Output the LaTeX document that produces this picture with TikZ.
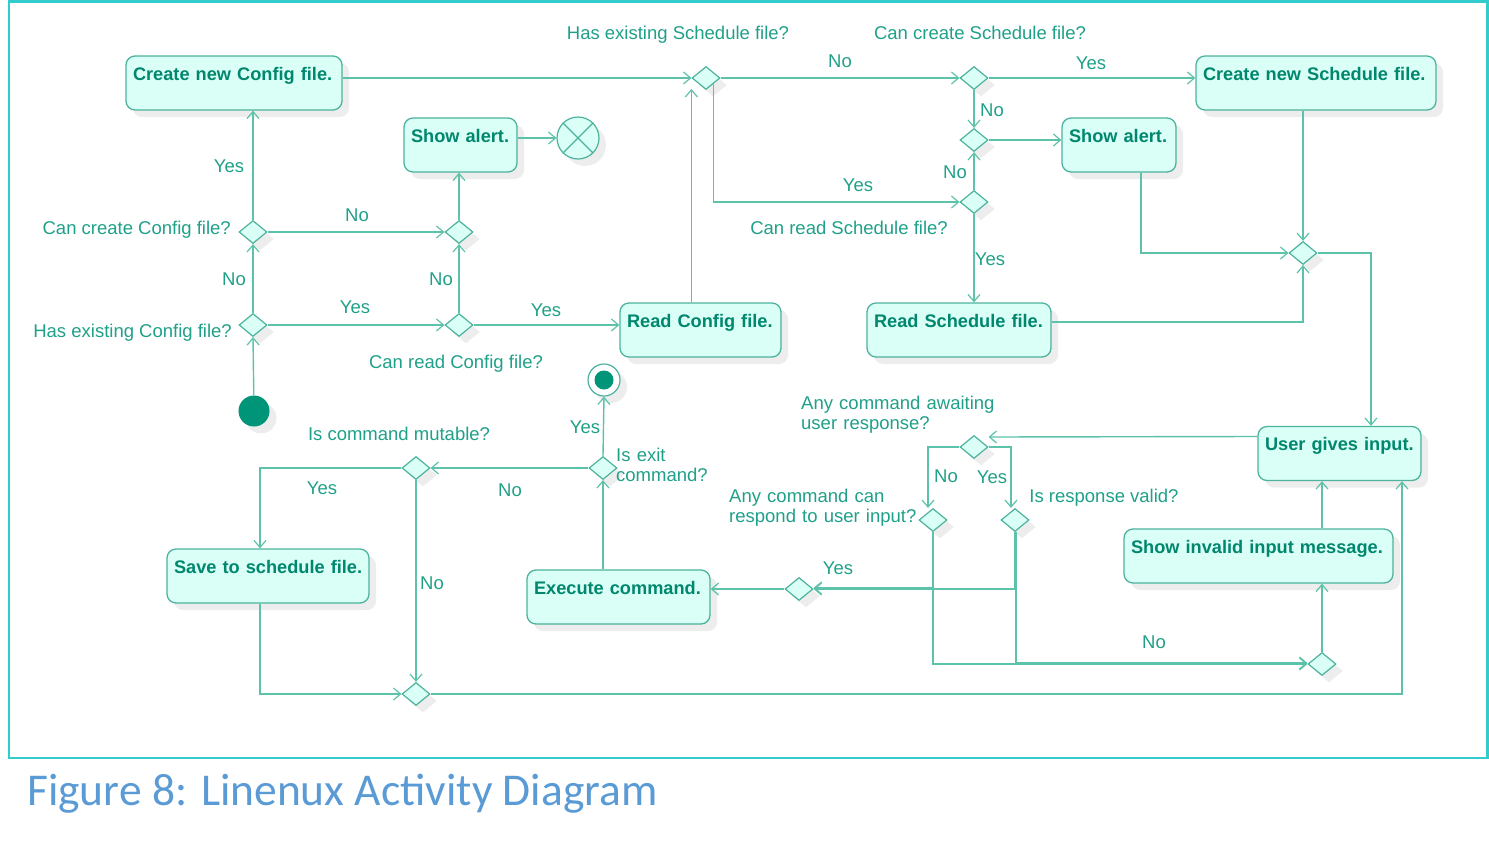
\documentclass[tikz,border=0pt]{standalone}
\usepackage{fontspec}
\setmainfont{Liberation Sans}
\newfontfamily\capfont{Carlito}
\usetikzlibrary{arrows.meta,shapes.geometric,shadows,calc}
\definecolor{linecol}{HTML}{5CC2AA}
\definecolor{boxcol}{HTML}{4DB39E}
\definecolor{labelcol}{HTML}{1FA088}
\definecolor{boldcol}{HTML}{00876E}
\definecolor{fillcol}{HTML}{D9FFF6}
\definecolor{initcol}{HTML}{009479}
\definecolor{framecol}{HTML}{33CCCC}
\definecolor{capcol}{HTML}{5B9BD5}
\begin{document}
\begin{tikzpicture}[x=1pt,y=-1pt,
  shadowed/.style={drop shadow={shadow xshift=7pt,shadow yshift=-7pt,fill=black!7,opacity=1}},
  action/.style={draw=boxcol,fill=fillcol,line width=1.3pt,rounded corners=9pt,align=left,
    inner xsep=7pt,inner ysep=6pt,text height=18pt,text depth=24pt,
    font=\bfseries\fontsize{18.2}{20}\selectfont,text=boldcol,shadowed},
  dec/.style={diamond,draw=boxcol,fill=fillcol,line width=1.2pt,minimum width=28pt,
    minimum height=23pt,inner sep=0pt,shadowed},
  flow/.style={draw=linecol,line width=1.4pt,
    -{Straight Barb[length=7pt,width=12pt,line width=1.2pt]}},
  lab/.style={text=labelcol,font=\fontsize{18.5}{20}\selectfont,inner sep=0pt,
    text height=17pt,text depth=3.9pt},
  mlab/.style={text=labelcol,font=\fontsize{18.5}{20}\selectfont,inner sep=0pt,
    text width=250pt,align=left,anchor=base west}
]
\useasboundingbox (0,0) rectangle (1489,841);
\draw[framecol,line width=2.5pt] (9,1.5) rectangle (1487.5,758);

% actions
\node[action,text width=202pt] (cfgNew) at (234,83) {\mbox{Create new Config file.}};
\node[action,text width=99pt] (alertL) at (460.5,145) {\mbox{Show alert.}};
\node[action,text width=147pt] (readCfg) at (700.5,330) {\mbox{Read Config file.}};
\node[action,text width=170pt] (readSch) at (959,330) {\mbox{Read Schedule file.}};
\node[action,text width=226pt] (schNew) at (1316,83) {\mbox{Create new Schedule file.}};
\node[action,text width=100pt] (alertR) at (1119,145) {\mbox{Show alert.}};
\node[action,text width=149pt] (userIn) at (1339.5,453.5) {\mbox{User gives input.}};
\node[action,text width=255pt] (invalid) at (1258.5,556) {\mbox{Show invalid input message.}};
\node[action,text width=188pt] (saveSch) at (268,576) {\mbox{Save to schedule file.}};
\node[action,text width=169pt] (exec) at (618.5,597) {\mbox{Execute command.}};

% decisions
\node[dec] (hasCfg) at (253,325) {};
\node[dec] (canCreateCfg) at (253,232) {};
\node[dec] (canReadCfg) at (459,325) {};
\node[dec] (alertM) at (459,232) {};
\node[dec] (hasSched) at (706,78) {};
\node[dec] (canCreateSched) at (974,78) {};
\node[dec] (alertMR) at (974,140) {};
\node[dec] (canReadSched) at (974,202) {};
\node[dec] (mergeR) at (1303,253) {};
\node[dec] (awaiting) at (974,447) {};
\node[dec] (canRespond) at (933,520) {};
\node[dec] (valid) at (1015,520) {};
\node[dec] (yesMerge) at (799,589) {};
\node[dec] (noMerge) at (1322,664) {};
\node[dec] (isExit) at (603,468) {};
\node[dec] (mutable) at (416,468) {};
\node[dec] (bottom) at (416,694) {};

% initial / final nodes
\node[circle,fill=initcol,minimum size=31pt,inner sep=0pt,shadowed] (init) at (254,411) {};
\node[circle,draw=boxcol,fill=white,line width=1.2pt,minimum size=32pt,inner sep=0pt,shadowed,
  path picture={\fill[initcol] (path picture bounding box.center) circle (9.5pt);}] (final) at (604,380) {};
\node[circle,draw=boxcol,fill=fillcol,line width=1.2pt,minimum size=42pt,inner sep=0pt,shadowed] (flowFin) at (578,138) {};
\draw[boxcol,line width=1.2pt] (flowFin.north west) -- (flowFin.south east)
  (flowFin.north east) -- (flowFin.south west);

% connectors - config part
\draw[flow] (init) -- (hasCfg.south);
\draw[flow] (hasCfg.north) -- (canCreateCfg.south);
\draw[flow] (canCreateCfg.north) -- (canCreateCfg.north |- cfgNew.south);
\draw[flow] (canCreateCfg.east) -- (alertM.west);
\draw[flow] (hasCfg.east) -- (canReadCfg.west);
\draw[flow] (canReadCfg.north) -- (alertM.south);
\draw[flow] (canReadCfg.east) -- (canReadCfg.east -| readCfg.west);
\draw[flow] (alertM.north) -- (alertM.north |- alertL.south);
\draw[flow] (alertL.east |- flowFin.west) -- (flowFin.west);
\draw[flow] (cfgNew.east |- hasSched.west) -- (hasSched.west);
\draw[flow] (readCfg.north -| hasSched.west) -- ($(hasSched.west)+(0,11)$);

% schedule part
\draw[flow] (hasSched.east) -- (canCreateSched.west);
\draw[flow] (hasSched.south east) |- (canReadSched.west);
\draw[flow] (canCreateSched.east) -- (canCreateSched.east -| schNew.west);
\draw[flow] (canCreateSched.south) -- (alertMR.north);
\draw[flow] (canReadSched.north) -- (alertMR.south);
\draw[flow] (alertMR.east) -- (alertMR.east -| alertR.west);
\draw[flow] (canReadSched.south) -- (canReadSched.south |- readSch.north);
\draw[flow] (schNew.south -| mergeR.north) -- (mergeR.north);
\draw[flow] ($(alertR.south)+(22,0)$) |- (mergeR.west);
\draw[flow] ($(readSch.east)+(0,-8)$) -| (mergeR.south);
\draw[flow] (mergeR.east) -| ($(userIn.north)+(31.5,0)$);

% input part
\draw[flow] ($(userIn.west)+(0,-17)$) -- ($(awaiting.east)+(0,-10)$);
\draw[flow] (awaiting.west) -| ($(canRespond.north)+(-5,0)$);
\draw[flow] (awaiting.east) -| ($(valid.north)+(-4,0)$);
\draw[flow] (canRespond.south) |- ($(yesMerge.east)+(0,-1)$);
\draw[flow] (valid.south) |- (yesMerge.east);
\draw[flow] (canRespond.south) |- (noMerge.west);
\draw[flow] ($(valid.south)+(1,0)$) |- ($(noMerge.west)+(0,-1)$);
\draw[flow] (yesMerge.west) -- (yesMerge.west -| exec.east);
\draw[flow] (noMerge.north) -- (noMerge.north |- invalid.south);
\draw[flow] (invalid.north -| noMerge.north) -- (userIn.south -| noMerge.north);

% command part
\draw[flow] (exec.north -| isExit.south) -- (isExit.south);
\draw[flow] (isExit.north) -- (final.south);
\draw[flow] (isExit.west) -- (mutable.east);
\draw[flow] (mutable.west) -| ($(saveSch.north)+(-8,0)$);
\draw[flow] (mutable.south) -- (bottom.north);
\draw[flow] ($(saveSch.south)+(-8,0)$) |- (bottom.west);
\draw[flow] (bottom.east) -| ($(userIn.south)+(62.5,0)$);

% labels
\node[lab] (t1) at (678,33) {Has existing Schedule file?};
\node[lab] (t2) at (980,33) {Can create Schedule file?};
\node[lab] (t3) at (840,61) {No};
\node[lab] (t4) at (1091,63) {Yes};
\node[lab] (t5) at (992,110) {No};
\node[lab] (t6) at (955,172) {No};
\node[lab] (t7) at (858,185) {Yes};
\node[lab] (t8) at (849,228) {Can read Schedule file?};
\node[lab] (t9) at (990,259) {Yes};
\node[lab,anchor=east] (t10) at (231,228) {Can create Config file?};
\node[lab] (t11) at (229,166) {Yes};
\node[lab] (t12) at (357,215) {No};
\node[lab] (t13) at (234,279) {No};
\node[lab] (t14) at (441,279) {No};
\node[lab,anchor=east] (t15) at (232,331) {Has existing Config file?};
\node[lab] (t16) at (355,307) {Yes};
\node[lab] (t17) at (456,362) {Can read Config file?};
\node[lab] (t18) at (546,310) {Yes};
\node[lab] (t19) at (399,434) {Is command mutable?};
\node[lab] (t20) at (322,488) {Yes};
\node[lab] (t21) at (510,490) {No};
\node[lab] (t22) at (432,583) {No};
\node[lab] (t23) at (585,427) {Yes};
\node[mlab] (t24) at (616,461) {Is exit\\command?};
\node[mlab] (t25) at (801,409) {Any command awaiting\\user response?};
\node[lab] (t26) at (946,476) {No};
\node[lab] (t27) at (992,477) {Yes};
\node[mlab] (t28) at (729,502) {Any command can\\respond to user input?};
\node[lab] (t29) at (1104,496) {Is response valid?};
\node[lab] (t30) at (838,568) {Yes};
\node[lab] (t31) at (1154,642) {No};

% caption
\node[anchor=base west,inner sep=0pt,text=capcol,font=\capfont\fontsize{45.5}{48}\selectfont] (caption) at (27,805) {Figure 8: Linenux Activity Diagram};
\end{tikzpicture}
\end{document}
